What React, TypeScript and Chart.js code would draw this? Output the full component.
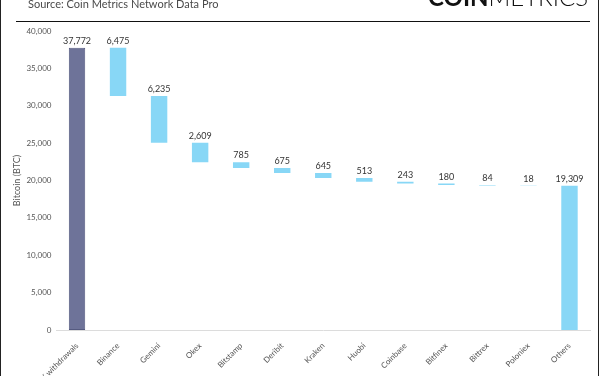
import React, { useEffect, useRef } from "react";
import { Chart, registerables } from "chart.js";

Chart.register(...registerables);

const categories = [
  "Total FTX withdrawals", "Binance", "Gemini", "Okex", "Bitstamp", "Deribit",
  "Kraken", "Huobi", "Coinbase", "Bitfinex", "Bittrex", "Poloniex", "Others",
];
const amounts = [37772, 6475, 6235, 2609, 785, 675, 645, 513, 243, 180, 84, 18, 19309];
const yTicks = [0, 5000, 10000, 15000, 20000, 25000, 30000, 35000, 40000];

const DARK = "#6e7399";
const LIGHT = "#88d7f6";

export default function App() {
  const ref = useRef<HTMLCanvasElement | null>(null);

  useEffect(() => {
    document.body.style.margin = "0";
    const canvas = ref.current!;
    const ranges: [number, number][] = [];
    let level = amounts[0];
    amounts.forEach((v, i) => {
      if (i === 0 || i === amounts.length - 1) ranges.push([0, v]);
      else {
        ranges.push([level - v, level]);
        level -= v;
      }
    });

    const decor = {
      id: "decor",
      afterDraw(chart: any) {
        const ctx = chart.ctx as CanvasRenderingContext2D;
        ctx.save();
        ctx.fillStyle = "#4a4a4a";
        ctx.font = "11px Lato";
        ctx.textBaseline = "alphabetic";
        ctx.textAlign = "left";
        ctx.fillText("Source: Coin Metrics Network Data Pro", 28, 8);
        ctx.font = "bold 24px Lato";
        ctx.fillStyle = "#111";
        const x0 = 428;
        ctx.fillText("COIN", x0, 6);
        const w = ctx.measureText("COIN").width;
        ctx.font = "300 24px Lato";
        ctx.fillText("METRICS", x0 + w, 6);
        ctx.strokeStyle = "#111";
        ctx.lineWidth = 1;
        ctx.beginPath();
        ctx.moveTo(16, 21.5);
        ctx.lineTo(590, 21.5);
        ctx.stroke();
        ctx.strokeStyle = "#222";
        ctx.beginPath();
        ctx.moveTo(0.5, 0);
        ctx.lineTo(0.5, 376);
        ctx.moveTo(598.5, 0);
        ctx.lineTo(598.5, 376);
        ctx.stroke();
        const meta = chart.getDatasetMeta(0);
        ctx.fillStyle = "#333";
        ctx.font = "9px Lato";
        ctx.textAlign = "center";
        meta.data.forEach((bar: any, i: number) => {
          ctx.fillText(amounts[i].toLocaleString("en-US"), bar.x, bar.y - 4);
        });
        ctx.restore();
      },
    };

    const chart = new Chart(canvas, {
      type: "bar",
      data: {
        labels: categories,
        datasets: [
          {
            data: ranges as any,
            backgroundColor: amounts.map((_, i) => (i === 0 ? DARK : LIGHT)),
            borderColor: amounts.map((_, i) => (i === 0 ? "#555a80" : LIGHT)),
            borderWidth: amounts.map((_, i) => (i === 0 ? 1 : 0)) as any,
            borderSkipped: false,
            barPercentage: 0.4,
            categoryPercentage: 1,
          },
        ],
      },
      options: {
        animation: false,
        responsive: false,
        maintainAspectRatio: false,
        layout: { padding: { left: 12, right: 10, top: 31, bottom: 0 } },
        plugins: { legend: { display: false }, tooltip: { enabled: false } },
        scales: {
          x: {
            grid: { display: false },
            border: { display: true, color: "#dcdcdc", width: 1 },
            ticks: {
              minRotation: 45,
              maxRotation: 45,
              autoSkip: false,
              color: "#555",
              font: { size: 8, family: "Lato" },
              padding: 3,
            },
            afterFit(scale: any) {
              scale.height = 46;
            },
          },
          y: {
            min: 0,
            max: 40000,
            afterBuildTicks(scale: any) {
              scale.ticks = yTicks.map((v) => ({ value: v }));
            },
            grid: { display: false, drawTicks: false },
            border: { display: false },
            ticks: {
              color: "#555",
              font: { size: 8, family: "Lato" },
              padding: 5,
              callback: (v: any) => Number(v).toLocaleString("en-US"),
            },
            title: {
              display: true,
              text: "Bitcoin (BTC)",
              color: "#555",
              font: { size: 9, family: "Lato" },
              padding: { top: 0, bottom: 0 },
            },
            afterFit(scale: any) {
              scale.width = 44.5;
            },
          },
        },
      },
      plugins: [decor],
    });
    return () => chart.destroy();
  }, []);

  return (
    <div style={{ position: "fixed", left: 0, top: 0, width: 600, height: 376, background: "#fff" }}>
      <canvas ref={ref} width={600} height={376} style={{ width: 600, height: 376 }} />
    </div>
  );
}
